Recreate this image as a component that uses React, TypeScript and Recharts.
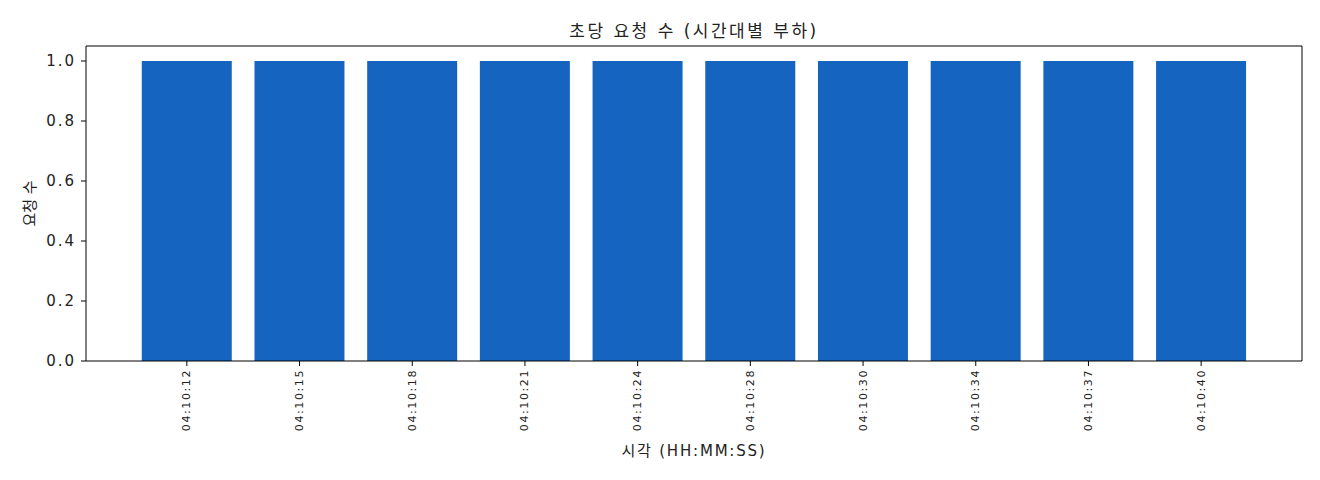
import React from "react";
import { BarChart, Bar, XAxis, YAxis, Label } from "recharts";

const times = [
  "04:10:12",
  "04:10:15",
  "04:10:18",
  "04:10:21",
  "04:10:24",
  "04:10:28",
  "04:10:30",
  "04:10:34",
  "04:10:37",
  "04:10:40",
];
const requests = [1, 1, 1, 1, 1, 1, 1, 1, 1, 1];
const yTicks = [0, 0.2, 0.4, 0.6, 0.8, 1.0];

const data = times.map((t, i) => ({ t, count: requests[i] }));

const FONT = "'DejaVu Sans', 'Noto Sans CJK KR', sans-serif";

const RotatedTick = (props: any) => {
  const { x, y, payload } = props;
  return (
    <text
      transform={`translate(${x},${y + 1}) rotate(-90)`}
      textAnchor="end"
      dominantBaseline="central"
      fontSize={11}
      letterSpacing={1.6}
      fill="#222"
      fontFamily={FONT}
    >
      {payload.value}
    </text>
  );
};

const App: React.FC = () => {
  return (
    <div style={{ position: "absolute", left: 0, top: 0, width: 1320, height: 480, background: "#fff", fontFamily: FONT }}>
      <div
        style={{
          position: "absolute",
          top: 17,
          left: 86,
          width: 1216,
          textAlign: "center",
          fontSize: 17,
          letterSpacing: 2.5,
          color: "#222",
        }}
      >
        초당 요청 수 (시간대별 부하)
      </div>
      <BarChart
        width={1320}
        height={480}
        data={data}
        margin={{ top: 45, right: 17, bottom: 0, left: 0 }}
        barCategoryGap="10%"
      >
        <XAxis
          dataKey="t"
          height={119}
          interval={0}
          padding={{ left: 44.5, right: 44.5 }}
          tick={<RotatedTick />}
          tickSize={5}
          axisLine={{ stroke: "#000" }}
          tickLine={{ stroke: "#000" }}
        >
          <Label value="시각 (HH:MM:SS)" position="insideBottom" offset={24} fontSize={15} letterSpacing={1.8} fill="#222" fontFamily={FONT} />
        </XAxis>
        <XAxis
          xAxisId="top"
          dataKey="t"
          orientation="top"
          height={1}
          tick={false}
          tickLine={false}
          axisLine={{ stroke: "#000" }}
        />
        <YAxis
          domain={[0, 1.05]}
          ticks={yTicks}
          width={86}
          tickSize={5}
          tickMargin={5}
          tickFormatter={(v: number) => v.toFixed(1)}
          tick={{ fontSize: 15, fill: "#222", fontFamily: FONT, letterSpacing: 2 }}
          axisLine={{ stroke: "#000" }}
          tickLine={{ stroke: "#000" }}
        >
          <Label value="요청 수" angle={-90} position="insideLeft" offset={30} fontSize={15} fill="#222" fontFamily={FONT} style={{ textAnchor: "middle" }} />
        </YAxis>
        <YAxis
          yAxisId="right"
          orientation="right"
          domain={[0, 1.05]}
          width={1}
          tick={false}
          tickLine={false}
          axisLine={{ stroke: "#000" }}
        />
        <Bar dataKey="count" fill="#1565C0" isAnimationActive={false} />
      </BarChart>
    </div>
  );
};

export default App;
